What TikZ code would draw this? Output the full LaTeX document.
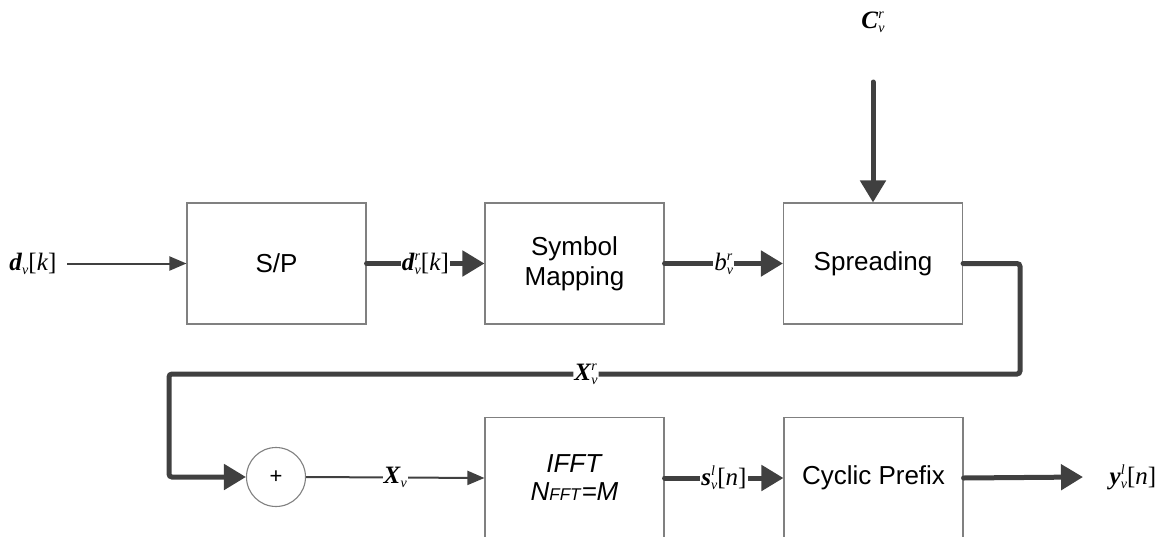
\documentclass[tikz,border=0pt]{standalone}
\usepackage{fontspec}
\setmainfont{Liberation Sans}
\newfontfamily\serfont{Liberation Serif}
\usetikzlibrary{arrows.meta}
\definecolor{lc}{HTML}{404040}
\definecolor{boxgray}{HTML}{808080}
% #1 base, #2 subscript, #3 superscript, #4 tail
\newcommand\sigl[4]{{\serfont\fontsize{25}{27}\selectfont #1\rlap{\raisebox{10pt}{\fontsize{14}{14}\selectfont\itshape #3}}\raisebox{-4pt}{\fontsize{14}{14}\selectfont\itshape #2}#4}}
\newcommand\bi[1]{\textbf{\textit{#1}}}
\begin{document}
\begin{tikzpicture}[x=1pt,y=-1pt,
  box/.style={draw=boxgray,line width=1.1pt,minimum width=179pt,minimum height=121pt,inner sep=0pt,align=center,font=\fontsize{26}{30}\selectfont},
  slim/.style={draw=lc,line width=2pt,-{Triangle[length=17pt,width=14pt]}},
  fat/.style={draw=lc,line width=5pt,line cap=round,-{Triangle[length=22pt,width=25pt]}},
  lab/.style={fill=white,inner sep=1pt}]
\useasboundingbox (0,0) rectangle (1168,536);

\node[box] (sp)  at (276.5,263.5) {S/P};
\node[box] (sym) at (574.5,263.5) {Symbol\\Mapping};
\node[box] (spr) at (873,263.5) {Spreading};
\node[box] (ifft) at (574.5,478) {\textit{IFFT}\\[-2pt]\textit{N}{\fontsize{17}{17}\selectfont\textit{FFT}}\textit{=M}};
\node[box] (cp) at (873.5,478) {Cyclic Prefix};
\node[draw=boxgray,line width=1.1pt,circle,minimum size=59pt,inner sep=0pt,font=\fontsize{22}{22}\selectfont] (plus) at (276,477) {+};

\node (din) at (33,263.5) {\sigl{\bi{d}}{v}{}{[\textit{k}]}};
\node (cin) at (873,22) {\sigl{\bi{C}}{v}{r}{}};
\node (yout) at (1133,477) {\sigl{\bi{y}}{v}{l}{[\textit{n}]}};
\coordinate (dstart) at (67,263.5);
\coordinate (ctop) at (873,82);
\coordinate (yend) at (1083,477);
\coordinate (c1) at (1020,263.5);
\coordinate (c2) at (1020,374);
\coordinate (c3) at (169,374);
\coordinate (c4) at (169,477);

\draw[slim] (dstart) -- (sp.west);
\draw[fat] (sp.east) -- node[lab]{\sigl{\bi{d}}{v}{r}{[\textit{k}]}} (sym.west);
\draw[fat] (sym.east) -- node[lab]{\sigl{\textit{b}}{v}{r}{}} (spr.west);
\draw[fat] (ctop) -- (spr.north);
\draw[fat,rounded corners=3pt] (spr.east) -- (c1) -- (c2) -- node[lab,pos=0.51]{\sigl{\bi{X}}{v}{r}{}} (c3) -- (c4) -- (plus.west);
\draw[slim] (plus.east) -- node[lab]{\sigl{\bi{X}}{v}{}{}} (ifft.west);
\draw[fat] (ifft.east) -- node[lab]{\sigl{\bi{s}}{v}{l}{[\textit{n}]}} (cp.west);
\draw[fat] (cp.east) -- (yend);
\end{tikzpicture}
\end{document}
